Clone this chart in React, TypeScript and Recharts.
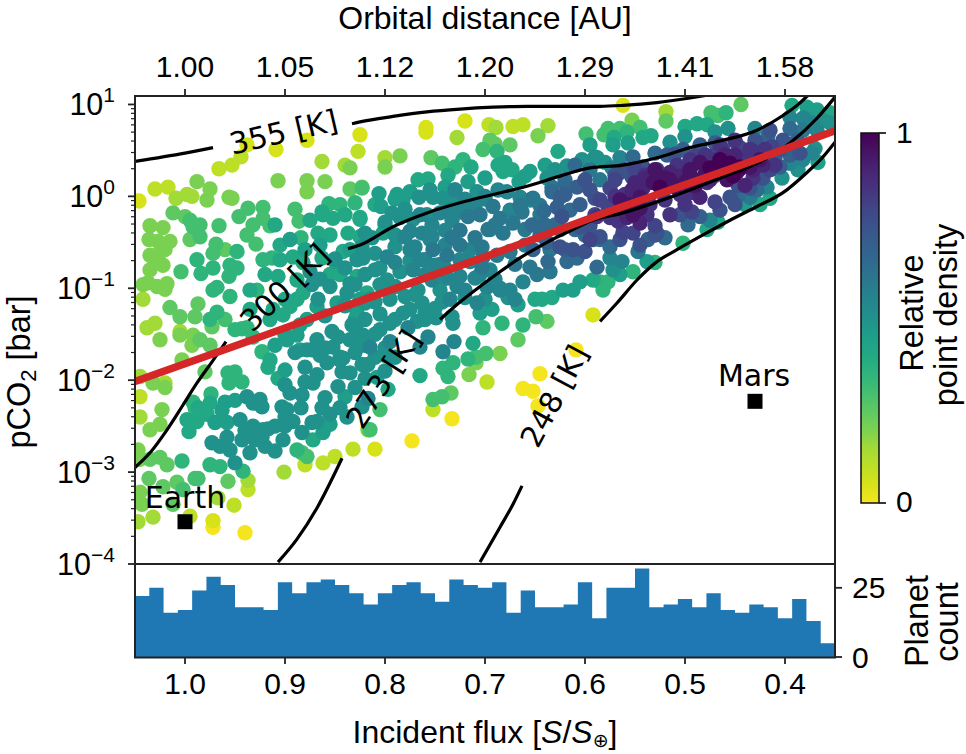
import { Area, ComposedChart, Line, Scatter, XAxis, YAxis } from 'recharts';

// every point is [incident flux S, log10 pCO2], grouped by the density colour it shows
const density00 = [[0.609,-1.67],[0.645,-1.93],[0.662,-2.09],[0.652,-2.12],[0.647,-2.28],[0.773,-2.66],[0.94,-3.66],[0.733,-2.42],[0.972,-3.6]];
const density05 = [[1.046,-0.05],[0.938,0.56],[0.909,0.51],[0.878,0.61],[0.825,0.67],[0.972,-3.53],[0.592,-1.29],[0.759,0.75],[0.562,0.99],[0.81,-2.75],[0.759,0.7],[0.72,0.82]];
const density10 = [[1.03,0.08],[1.017,0.1],[0.827,0.49],[0.944,0.43],[0.953,0.34],[0.966,0.3],[0.951,-3.36],[0.995,-3.48],[0.696,0.78],[0.672,0.76],[0.662,0.78],[0.752,-2.32],[0.937,-3.19],[0.88,-2.92],[0.862,-2.9],[0.85,-2.83],[0.832,-2.75],[0.698,-2.02],[1.045,-2.18]];
const density15 = [[0.8,0.42],[0.863,0.38],[0.84,0.34],[0.728,0.64],[0.637,0.77],[0.519,0.92],[0.689,0.75],[1.009,-0.02],[0.998,0.02],[0.993,0],[1.045,-1.96],[1.045,-2.4],[1.02,-2.03],[1.042,-1.12],[1.047,-3.54],[1.032,-3.49],[1.038,-1.43],[1.03,-1.38],[0.901,-3],[0.967,-3.28],[0.937,-3.09],[1.005,-1.47]];
const density20 = [[0.785,0.44],[0.8,0.32],[0.553,0.83],[0.647,0.66],[0.988,0.16],[0.975,0.08],[0.978,-0.04],[0.956,-0.01],[0.953,-0.02],[0.907,0.17],[0.878,0.17],[0.86,0.16],[0.878,0.05],[0.835,0.31],[1.035,-0.32],[1.022,-0.34],[1.036,-0.47],[1.015,-0.49],[1.027,-0.49],[1.035,-0.64],[1.025,-0.61],[1.022,-0.75],[1.03,-0.73],[1.042,-0.96],[1.037,-0.94],[1.028,-0.98],[1.02,-1.01],[1.018,-0.95],[1.02,-2.08],[1.032,-2.03],[1.005,-1.51],[0.992,-1.51],[0.993,-1.62],[1.035,-2.54],[1.025,-2.48],[1.023,-2.32],[1.043,-3.35],[1.045,-3.22],[1.047,-2.76],[1.045,-2.86],[1.003,-1.78],[0.817,-2.54],[0.709,-1.81],[0.685,-1.71],[0.716,-1.94],[1.02,-0.58],[1.035,-0.8],[1.025,-1.56]];
const density25 = [[0.835,0.08],[0.823,0.1],[0.695,0.61],[0.69,0.57],[0.675,0.56],[0.754,0.42],[0.519,0.82],[0.444,1],[1.012,-0.18],[1,-0.22],[1.015,-1.21],[1.005,-1.31],[0.99,-1.31],[0.98,-1.91],[0.638,-1.36],[0.734,-2.14],[0.667,-1.56],[1.035,-2.86],[1.025,-2.84],[1.018,-2.92],[1.036,-3.07],[1.022,-3.16],[1.012,-3.35],[1.008,-3.11],[0.957,-3.1],[0.987,-1.17],[0.973,-1.42],[0.975,-1.62],[0.995,-0.47],[0.985,-1.56],[0.96,-0.58]];
const density30 = [[0.545,0.75],[0.565,0.74],[0.577,0.74],[0.581,0.67],[0.702,0.51],[0.743,0.36],[0.474,0.91],[0.467,0.88],[0.599,0.68],[0.995,-0.26],[0.985,-0.31],[0.985,-0.44],[0.992,-0.33],[0.966,-0.32],[0.969,-0.52],[0.972,-0.62],[1.004,-0.82],[0.937,-0.13],[0.922,-0.12],[0.946,-0.22],[0.915,-0.32],[0.922,-0.24],[0.932,-0.31],[0.938,-0.42],[0.929,-0.52],[0.89,-0.14],[0.886,-0.27],[0.823,0.09],[0.649,-1.31],[0.699,-1.71],[0.709,-1.75],[0.743,-2.18],[0.752,-2.21],[0.805,-2.32],[0.878,-2.83],[0.883,-2.79],[0.815,-2.54],[1.002,-3.19],[0.99,-3.07],[0.987,-3.07],[0.96,-1.34]];
const density35 = [[0.73,0.32],[0.722,0.4],[0.688,0.49],[0.558,0.7],[0.459,0.91],[0.988,-0.69],[0.972,-0.78],[0.948,-0.6],[0.984,-0.84],[0.884,-0.45],[0.856,-0.08],[0.845,-0.09],[0.83,-0.07],[0.922,-0.69],[0.913,-0.67],[0.948,-0.78],[0.955,-0.75],[0.956,-0.87],[0.968,-0.99],[0.955,-1.09],[0.972,-1.02],[0.928,-1.02],[0.968,-1.26],[0.975,-1.34],[0.938,-1.43],[0.683,-1.38],[0.662,-1.4],[0.702,-1.43],[0.732,-1.81],[0.742,-1.87],[0.737,-1.96],[0.717,-1.77],[0.585,-0.93],[0.577,-0.93],[0.582,-1.02],[0.552,-0.82],[0.957,-1.92],[0.95,-1.91],[0.956,-2.03],[0.943,-2.02],[0.888,-2.76],[0.942,-2.99],[0.975,-2.92],[0.965,-2.94],[1.003,-2.88],[0.95,-1.45],[0.943,-1.44],[0.932,-1.53],[0.923,-1.69],[0.974,-2.15],[0.992,-2.24],[0.99,-2.3],[0.502,-0.51],[0.53,-0.72]];
const density40 = [[0.714,0.32],[0.737,0.23],[0.687,0.34],[0.68,0.37],[0.682,0.27],[0.673,0.29],[0.627,0.49],[0.767,0.18],[0.757,0.19],[0.571,0.64],[0.542,0.64],[0.534,0.66],[0.5,0.76],[0.488,0.79],[0.478,0.78],[0.393,0.99],[0.355,0.91],[0.825,-0.25],[0.825,-0.23],[0.863,-0.17],[0.852,-0.24],[0.862,-0.2],[0.867,-0.4],[0.855,-0.42],[0.837,-0.4],[0.825,-0.44],[0.842,-0.6],[0.892,-0.66],[0.905,-0.69],[0.907,-0.87],[0.882,-0.72],[0.863,-0.67],[0.888,-0.91],[0.882,-1.05],[0.888,-1.12],[0.895,-1.2],[0.912,-1.23],[0.915,-1.34],[0.902,-1.29],[0.855,-0.85],[0.845,-0.85],[0.828,-0.87],[0.818,-1.05],[0.915,-1.78],[0.917,-1.86],[0.907,-1.98],[0.65,-1.12],[0.643,-1.12],[0.633,-1.1],[0.592,-0.91],[0.765,-1.95],[0.712,-1.6],[0.415,-0.02],[0.425,-0.09],[0.467,-0.28],[0.478,-0.36],[0.996,-2.56],[0.998,-2.43],[0.988,-2.45],[0.978,-2.37],[0.987,-2.3],[0.975,-2.25],[0.872,-2.65],[0.797,-2.1],[0.84,-0.2],[0.81,-0.09],[0.8,-0.31],[0.875,-0.26],[0.91,-0.31],[0.905,-0.53],[0.92,-0.85],[0.935,-1.02],[0.9,-1.12],[0.935,-1.23]];
const density45 = [[0.806,0.03],[0.788,0.02],[0.782,-0.04],[0.804,-0.11],[0.666,0.16],[0.717,0.16],[0.64,0.34],[0.655,0.27],[0.595,0.56],[0.572,0.56],[0.557,0.58],[0.378,0.97],[0.368,0.94],[0.367,0.37],[0.44,-0.09],[0.565,-0.85],[0.802,-0.4],[0.868,-1.2],[0.878,-1.34],[0.848,-1.16],[0.83,-1.34],[0.828,-1.27],[0.898,-1.56],[0.888,-1.51],[0.9,-1.89],[0.84,-2.18],[0.862,-2.57],[0.855,-2.48],[0.96,-2.24],[0.95,-2.22],[0.693,-1.23],[0.667,-1.18],[0.705,-1.27],[0.622,-1.02],[0.612,-1.02],[0.605,-0.93],[0.808,-1.97],[0.538,-0.71],[0.963,-2.33],[0.97,-2.46],[0.958,-2.46],[0.79,-0.03],[0.775,0.05],[0.74,0.1],[0.7,0.2],[0.66,0.22],[0.865,-0.53],[0.88,-0.58],[0.895,-0.47],[0.85,-0.71],[0.835,-0.58],[0.825,-1.12],[0.885,-1.4],[0.9,-1.51],[0.91,-1.62],[0.885,-1.67]];
const density50 = [[0.865,-0.9],[0.855,-0.98],[0.875,-0.82],[0.838,-1.05],[0.84,-1.19],[0.867,-1.12],[0.873,-0.96],[0.828,-0.69],[0.82,-0.85],[0.815,-1.12],[0.82,-1.34],[0.833,-1.4],[0.822,-0.67],[0.755,0.07],[0.73,0.07],[0.708,0.05],[0.766,-0.01],[0.752,-0.01],[0.742,-0.02],[0.73,-0.02],[0.785,-0.23],[0.793,-0.18],[0.78,-0.14],[0.638,0.2],[0.63,0.29],[0.618,0.33],[0.603,0.4],[0.59,0.43],[0.515,0.59],[0.5,0.65],[0.47,0.7],[0.457,0.74],[0.588,0.42],[0.58,0.37],[0.403,0.2],[0.387,0.29],[0.38,0.85],[0.362,0.83],[0.355,0.8],[0.37,0.52],[0.823,-0.55],[0.82,-0.4],[0.813,-0.45],[0.81,-0.62],[0.798,-0.91],[0.785,-0.82],[0.767,-1.02],[0.78,-1.09],[0.81,-1.15],[0.82,-1.16],[0.763,-1.16],[0.743,-1.15],[0.782,-1.27],[0.768,-1.36],[0.749,-1.32],[0.733,-1.31],[0.732,-1.38],[0.677,-1.1],[0.572,-0.8],[0.938,-2.18],[0.925,-2.21],[0.923,-2.29],[0.932,-2.25],[0.945,-2.43],[0.932,-2.5],[0.922,-2.54],[0.917,-2.53],[0.923,-2.62],[0.943,-2.65],[0.973,-2.68],[0.958,-2.62],[0.965,-2.72],[0.955,-2.76],[0.95,-2.9],[0.935,-2.79],[0.92,-2.72],[0.91,-2.77],[0.903,-2.29],[0.895,-2.14],[0.883,-2.16],[0.884,-2.3],[0.898,-2.32],[0.86,-2.19],[0.863,-2.3],[0.873,-2.46],[0.892,-2.45],[0.9,-2.5],[0.902,-2.65],[0.883,-2.57],[0.868,-2.45],[0.855,-2.37],[0.823,-2.29],[0.838,-2.4],[0.845,-2.3],[0.878,-1.67],[0.868,-1.56],[0.873,-1.67],[0.852,-1.64],[0.847,-1.53],[0.853,-1.47],[0.828,-1.47],[0.822,-1.51],[0.83,-1.7],[0.842,-1.76],[0.858,-1.81],[0.88,-1.86],[0.88,-2.02],[0.868,-1.94],[0.872,-2.03],[0.843,-1.91],[0.847,-2.07],[0.835,-1.92],[0.823,-1.83],[0.817,-1.83],[0.8,-0.28],[0.772,-0.25],[0.758,-0.2],[0.805,-0.78],[0.79,-0.55],[0.775,-0.7],[0.745,-1.02],[0.79,-0.98],[0.805,-1.28],[0.795,-1.38],[0.75,-1.22],[0.72,-1.1],[0.7,-1.12],[0.76,-1.27],[0.84,-0.78],[0.85,-0.68],[0.835,-0.95],[0.86,-1.3],[0.83,-1.55],[0.81,-1.5],[0.8,-1.65],[0.79,-1.75],[0.81,-1.75],[0.8,-1.9],[0.82,-1.98],[0.83,-2.08],[0.845,-1.75],[0.86,-1.65],[0.89,-1.7],[0.9,-2.05],[0.91,-2.5],[0.93,-2.65],[0.94,-2.55],[0.9,-2.4],[0.81,-0.8],[0.805,-0.96],[0.83,-0.96],[0.795,-1.12],[0.79,-1.34],[0.805,-1.45],[0.835,-1.56],[0.865,-1.73],[0.845,-1.78],[0.8,-1.73],[0.82,-1.62],[0.775,-1.23],[0.76,-1.34],[0.77,-1.07],[0.745,-0.93],[0.79,-0.42]];
const density55 = [[0.73,0.07],[0.687,0.07],[0.678,0.05],[0.665,-0.01],[0.43,0.74],[0.395,0.86],[0.382,0.85],[0.373,0.8],[0.368,0.72],[0.395,0.36],[0.382,0.4],[0.373,0.47],[0.418,0.1],[0.475,-0.26],[0.565,0.42],[0.573,0.31],[0.575,-0.67],[0.563,-0.71],[0.78,-0.44],[0.77,-0.55],[0.775,-0.38],[0.753,-0.31],[0.763,-0.4],[0.753,-0.44],[0.733,-0.26],[0.772,-0.8],[0.737,-0.89],[0.725,-0.87],[0.728,-0.98],[0.71,-0.89],[0.698,-0.99],[0.708,-1.16],[0.675,-1.02],[0.662,-0.93],[0.798,-0.66],[0.79,-0.72],[0.76,-0.85],[0.753,-0.91],[0.777,-1.43],[0.795,-1.58],[0.757,-1.53],[0.765,-1.64],[0.815,-1.64],[0.731,-1.58],[0.742,-1.69],[0.817,-2.2],[0.775,-0.58],[0.76,-0.69],[0.74,-0.37],[0.715,-0.71],[0.695,-0.8],[0.745,-0.18],[0.765,-0.2],[0.725,-0.17],[0.71,-0.1],[0.72,-0.03],[0.7,-0.03],[0.75,-0.75],[0.74,-0.78],[0.69,-0.9],[0.685,-1.0],[0.755,-0.47],[0.74,-0.53],[0.765,-0.69],[0.745,-0.74],[0.725,-0.69],[0.715,-0.58],[0.705,-0.85],[0.72,-1.02],[0.735,-1.12],[0.685,-1.02],[0.67,-1.12],[0.695,-0.36],[0.715,-0.09],[0.735,-0.15],[0.7,0],[0.675,-0.15],[0.655,-0.04]];
const density60 = [[0.725,-0.37],[0.733,-0.45],[0.717,-0.22],[0.738,-0.64],[0.752,-0.58],[0.725,-0.53],[0.71,-0.45],[0.703,-0.55],[0.692,-0.11],[0.685,-0.24],[0.697,-0.36],[0.682,-0.4],[0.663,-0.17],[0.702,-0.66],[0.703,-0.77],[0.688,-0.64],[0.635,-0.82],[0.648,-0.85],[0.655,-0.77],[0.435,-0.01],[0.382,0.72],[0.672,-0.29],[0.633,0.1],[0.652,-0.02],[0.547,-0.6],[0.705,-0.2],[0.69,-0.31],[0.67,-0.74],[0.675,-0.6],[0.66,-0.53],[0.665,-0.1],[0.645,-0.1],[0.645,-0.2],[0.66,-0.36],[0.635,-0.58],[0.595,0.29],[0.585,0.18]];
const density65 = [[0.633,0.05],[0.602,0.13],[0.641,-0.16],[0.653,-0.31],[0.637,-0.71],[0.618,-0.71],[0.608,-0.67],[0.588,-0.77],[0.52,-0.45],[0.497,-0.31],[0.552,0.43],[0.53,0.47],[0.417,0.66],[0.395,0.74],[0.428,0.07],[0.447,0.01],[0.575,-0.55],[0.645,-0.42],[0.63,-0.31],[0.61,-0.36],[0.62,0.14],[0.64,-0.31],[0.615,-0.15],[0.6,-0.42],[0.585,-0.47],[0.625,-0.36],[0.61,0.34],[0.62,0.18]];
const density70 = [[0.625,-0.01],[0.628,-0.12],[0.608,0.1],[0.537,-0.47],[0.592,-0.47],[0.388,0.61],[0.395,0.45],[0.485,-0.22],[0.502,0.51],[0.485,0.56],[0.518,0.45],[0.405,0.32],[0.652,-0.58],[0.638,-0.5],[0.605,-0.09],[0.62,0.02],[0.62,-0.58],[0.41,0.42],[0.47,0.58],[0.45,0.6],[0.42,0.58]];
const density75 = [[0.595,0.07],[0.623,-0.22],[0.625,-0.55],[0.612,-0.58],[0.528,-0.4],[0.447,0.12],[0.435,0.09],[0.542,0.32],[0.553,0.21],[0.455,-0.01],[0.585,-0.44],[0.428,0.54],[0.402,0.61],[0.422,0.2],[0.6,0.18],[0.59,-0.02],[0.605,-0.33],[0.595,-0.32],[0.565,0.26],[0.51,0.46],[0.6,-0.6],[0.57,0.23],[0.56,0.29],[0.575,-0.15],[0.565,-0.47],[0.545,-0.53],[0.53,-0.42],[0.505,-0.2],[0.415,0.72],[0.43,0.61],[0.405,0.51],[0.385,0.47],[0.45,-0.09],[0.465,-0.15]];
const density80 = [[0.595,-0.47],[0.575,0.09],[0.577,-0.11],[0.493,-0.17],[0.445,0.53],[0.462,0.51],[0.413,0.54],[0.415,0.29],[0.47,-0.06],[0.528,0.29],[0.552,-0.4],[0.562,-0.39],[0.585,-0.04],[0.59,-0.2],[0.57,0.18],[0.55,0.3],[0.49,0.44],[0.47,0.45],[0.43,0.42],[0.53,-0.32]];
const density85 = [[0.563,-0.06],[0.5,-0.09],[0.515,-0.2],[0.432,0.49],[0.508,0.34],[0.478,0.15],[0.495,0.04],[0.432,0.2],[0.588,-0.22],[0.538,-0.2],[0.575,-0.23],[0.567,-0.27],[0.57,0],[0.56,0.02],[0.505,0.02],[0.42,0.48],[0.44,0.4],[0.49,0.36],[0.47,0.4],[0.55,0.12],[0.54,0.23],[0.535,-0.09],[0.52,-0.04],[0.505,0.07],[0.485,0.18],[0.47,0.23],[0.45,0.61],[0.465,0.56],[0.48,0.45],[0.495,0.4],[0.435,0.51],[0.42,0.51],[0.41,0.34]];
const density90 = [[0.553,0.07],[0.485,-0.01],[0.545,-0.29],[0.558,-0.23],[0.515,0.26],[0.475,0.18],[0.422,0.34],[0.432,0.29],[0.562,-0.15],[0.542,0.09],[0.55,0.15],[0.54,0.2],[0.505,0.22],[0.49,0.1],[0.46,0.45],[0.45,0.45],[0.44,0.12]];
const density95 = [[0.532,0.15],[0.545,-0.01],[0.495,0.29],[0.485,0.37],[0.435,0.32],[0.458,0.18],[0.448,0.26],[0.528,0.16],[0.552,-0.2],[0.545,-0.13],[0.52,0.2],[0.51,0.1],[0.5,0.15],[0.49,0.17],[0.48,0.24],[0.565,-0.04],[0.555,-0.09],[0.53,0.29],[0.515,0.18],[0.495,0.23],[0.49,0.12],[0.46,0.34],[0.445,0.3],[0.425,0.4]];
const density100 = [[0.525,0.1],[0.475,0.31],[0.465,0.4],[0.455,0.36],[0.445,0.32],[0.47,0.26],[0.46,0.28],[0.452,0.22]];

const bands = [density00, density05, density10, density15, density20, density25, density30, density35, density40, density45, density50, density55, density60, density65, density70, density75, density80, density85, density90, density95, density100];
const viridis = ['#f5e51f', '#d8e219', '#bddf26', '#a2da37', '#7ad151', '#5ec962', '#44bf70', '#2fb47c', '#22a884', '#1f9e89', '#21918c', '#25858e', '#2a788e', '#306a8e', '#355f8d', '#3b528b', '#414487', '#46337f', '#482475', '#471365', '#440154'];

// temperature contours, same units as the points, split where a label interrupts them
const c355a = [[1.05,0.38],[1.0,0.47],[0.972,0.53]];
const c355b = [[0.833,0.79],[0.825,0.81],[0.792,0.87],[0.758,0.92],[0.725,0.95],[0.692,0.97],[0.658,0.98],[0.625,0.98],[0.585,0.98],[0.562,0.99],[0.528,1.02],[0.495,1.07],[0.478,1.1]];
const c300a = [[1.05,-2.95],[1.035,-2.79],[1.018,-2.54],[1.002,-2.27],[0.988,-2.03],[0.973,-1.8],[0.959,-1.58]];
const c300b = [[0.837,-0.57],[0.825,-0.53],[0.792,-0.33],[0.758,-0.18],[0.725,-0.07],[0.692,0.02],[0.658,0.11],[0.625,0.22],[0.595,0.31],[0.562,0.34],[0.528,0.42],[0.495,0.53],[0.462,0.61],[0.428,0.72],[0.402,0.88],[0.388,0.99],[0.377,1.1]];
const c273a = [[0.907,-3.98],[0.888,-3.73],[0.868,-3.39],[0.843,-2.85]];
const c273b = [[0.745,-1.34],[0.725,-1.15],[0.705,-0.98],[0.685,-0.82],[0.665,-0.67],[0.638,-0.5],[0.612,-0.36],[0.595,-0.27],[0.562,-0.18],[0.528,-0.06],[0.495,0.07],[0.462,0.21],[0.428,0.36],[0.395,0.58],[0.368,0.85],[0.35,1.08]];
const c248a = [[0.705,-3.98],[0.685,-3.6],[0.672,-3.35],[0.663,-3.15]];
const c248b = [[0.585,-1.36],[0.568,-1.16],[0.548,-0.91],[0.528,-0.71],[0.508,-0.58],[0.482,-0.42],[0.455,-0.26],[0.428,-0.11],[0.402,0.04],[0.378,0.26],[0.362,0.43],[0.35,0.59]];
const contours = [c355a, c355b, c300a, c300b, c273a, c273b, c248a, c248b];

// best-fit line
const fitFlux = [1.05, 0.93, 0.81, 0.7, 0.58, 0.46, 0.35];
const fitLog = [-2.013, -1.55, -1.08, -0.658, -0.179, 0.277, 0.715];

const earth = [[1.0, -3.54]];
const mars = [[0.43, -2.23]];

// histogram, first bin starts at S = 1.05, bins are 0.7 / 49 wide
const planetCount = [22, 25, 16, 17, 24, 29, 26, 18, 18, 17, 27, 23, 27, 28, 26, 23, 19, 23, 26, 27, 23, 20, 28, 26, 25, 27, 16, 24, 18, 18, 19, 27, 14, 25, 25, 32, 18, 19, 21, 18, 23, 17, 16, 19, 18, 14, 21, 13, 5];
const histRows = [...planetCount, 5].map((count, i) => ({ S: 1.05 - i / 70, count }));

const fluxTicks = [1.0, 0.9, 0.8, 0.7, 0.6, 0.5, 0.4];
const orbitalLabels = ['1.00', '1.05', '1.12', '1.20', '1.29', '1.41', '1.58'];
const decades = [-4, -3, -2, -1, 0, 1];
const minorSteps = [2, 3, 4, 5, 6, 7, 8, 9];
const yDomain = [1e-4, 10 ** 1.092];

const sans = '"Liberation Sans", Arial, sans-serif';
const dejavu = '"DejaVu Sans", sans-serif';

const toRows = (pts: number[][]) => pts.map(([S, lp]) => ({ S, p: 10 ** lp }));
const yTicks = [
    ...decades.map((d) => 10 ** d),
    ...decades.slice(0, 5).flatMap((d) => minorSteps.map((m) => m * 10 ** d)),
];

function LogTick({ x, y, payload }: any) {
    const lp = Math.log10(payload.value);
    const major = Math.abs(lp - Math.round(lp)) < 1e-6;
    if (!major) return <line x1={x} x2={x - 4} y1={y} y2={y} stroke="#222" strokeWidth={1.2} />;
    const exp = Math.round(lp);
    return (
        <g>
            <line x1={x} x2={x - 7} y1={y} y2={y} stroke="#222" strokeWidth={1.8} />
            <text x={x - 20} y={y + 11} textAnchor="end" fontFamily={sans} fontSize={30.5} fill="#000">
                10
                <tspan dy={-13} fontSize={21}>{exp < 0 ? `\u2212${-exp}` : exp}</tspan>
            </text>
        </g>
    );
}

function dot(fill: string) {
    return (props: any) => <circle cx={props.cx} cy={props.cy} r={7.7} fill={fill} />;
}

function square(props: any) {
    return <rect x={props.cx - 7.5} y={props.cy - 7.5} width={15} height={15} fill="#000" />;
}

const annotation = (label: string, x: number, y: number, angle: number) => (
    <text x={x} y={y} transform={`rotate(${angle} ${x} ${y})`} textAnchor="middle" dominantBaseline="middle" fontFamily={dejavu} fontSize={30} fill="#000">
        {label}
    </text>
);

const rotated = (label: React.ReactNode, x: number, y: number) => (
    <text x={x} y={y} transform={`rotate(-90 ${x} ${y})`} textAnchor="middle" fontFamily={sans} fontSize={32.5} fill="#000">
        {label}
    </text>
);

const layer: React.CSSProperties = { position: 'absolute', left: 0, top: 0 };

export default function App() {
    return (
        <div style={{ position: 'fixed', left: 0, top: 0, width: 966, height: 754, background: '#fff', overflow: 'hidden' }}>
            <div style={layer}>
                <ComposedChart width={966} height={754} margin={{ top: 56, right: 131, bottom: 190, left: 75 }}>
                    <XAxis
                        dataKey="S"
                        type="number"
                        orientation="top"
                        height={40}
                        reversed
                        allowDataOverflow
                        domain={[0.35, 1.05]}
                        ticks={fluxTicks}
                        interval={0}
                        axisLine={false}
                        tickSize={7}
                        tickMargin={12}
                        tickLine={{ stroke: '#222', strokeWidth: 1.8 }}
                        tickFormatter={(v: number) => orbitalLabels[fluxTicks.findIndex((t) => Math.abs(t - v) < 1e-6)]}
                        tick={{ fontFamily: sans, fontSize: 30, fill: '#000' }}
                    />
                    <YAxis
                        dataKey="p"
                        type="number"
                        scale="log"
                        width={60}
                        allowDataOverflow
                        domain={yDomain}
                        ticks={yTicks}
                        interval={0}
                        axisLine={false}
                        tickLine={false}
                        tickSize={0}
                        tickMargin={0}
                        tick={<LogTick />}
                    />
                    {bands.map((band, i) => (
                        <Scatter key={i} data={toRows(band)} shape={dot(viridis[i])} isAnimationActive={false} />
                    ))}
                </ComposedChart>
            </div>
            <div style={layer}>
                {/* second layer so the curves and squares sit above the scatter */}
                <ComposedChart width={966} height={754} margin={{ top: 96, right: 131, bottom: 190, left: 135 }}>
                    <XAxis dataKey="S" type="number" hide reversed allowDataOverflow domain={[0.35, 1.05]} />
                    <YAxis dataKey="p" type="number" hide scale="log" allowDataOverflow domain={yDomain} />
                    {contours.map((c, i) => (
                        <Line key={i} data={toRows(c)} dataKey="p" type="monotone" dot={false} stroke="#000" strokeWidth={3.2} isAnimationActive={false} />
                    ))}
                    <Line data={fitFlux.map((S, i) => ({ S, p: 10 ** fitLog[i] }))} dataKey="p" type="linear" dot={false} stroke="#d62728" strokeWidth={7.5} isAnimationActive={false} />
                    <Scatter data={toRows(earth)} shape={square} isAnimationActive={false} />
                    <Scatter data={toRows(mars)} shape={square} isAnimationActive={false} />
                </ComposedChart>
            </div>
            <div style={layer}>
                <ComposedChart width={966} height={754} data={histRows} margin={{ top: 564, right: 71, bottom: 57, left: 135 }}>
                    <XAxis
                        dataKey="S"
                        type="number"
                        height={40}
                        reversed
                        allowDataOverflow
                        domain={[0.35, 1.05]}
                        ticks={fluxTicks}
                        interval={0}
                        axisLine={false}
                        tickSize={7}
                        tickMargin={9}
                        tickLine={{ stroke: '#222', strokeWidth: 1.8 }}
                        tickFormatter={(v: number) => v.toFixed(1)}
                        tick={{ fontFamily: sans, fontSize: 30, fill: '#000' }}
                    />
                    <YAxis
                        orientation="right"
                        type="number"
                        width={60}
                        domain={[0, 33.6]}
                        ticks={[0, 25]}
                        interval={0}
                        axisLine={false}
                        tickSize={7}
                        tickMargin={10}
                        tickLine={{ stroke: '#222', strokeWidth: 1.8 }}
                        tick={{ fontFamily: sans, fontSize: 30, fill: '#000' }}
                    />
                    <Area dataKey="count" type="stepAfter" fill="#1f77b4" fillOpacity={1} stroke="none" dot={false} isAnimationActive={false} />
                </ComposedChart>
            </div>
            <svg width={966} height={754} style={{ position: 'absolute', left: 0, top: 0, pointerEvents: 'none' }}>
                <defs>
                    <linearGradient id="cbar" x1="0" y1="1" x2="0" y2="0">
                        {viridis.map((c, i) => (
                            <stop key={c} offset={i / (viridis.length - 1)} stopColor={c} />
                        ))}
                    </linearGradient>
                </defs>
                <rect x={135} y={96} width={700} height={561.5} fill="none" stroke="#222" strokeWidth={2} />
                <line x1={135} x2={835} y1={564} y2={564} stroke="#222" strokeWidth={2} />
                {annotation('355 [K]', 284, 134, -13)}
                {annotation('300 [K]', 286, 289, -44)}
                {annotation('273 [K]', 385, 380, -57)}
                {annotation('248 [K]', 556, 397, -62)}
                {annotation('Earth', 185, 499, 0)}
                {annotation('Mars', 754, 377, 0)}
                <text x={485} y={29} textAnchor="middle" fontFamily={sans} fontSize={32}>Orbital distance [AU]</text>
                <text x={485} y={743} textAnchor="middle" fontFamily={sans} fontSize={32}>
                    Incident flux [<tspan fontStyle="italic">S</tspan>/<tspan fontStyle="italic">S</tspan>
                    <tspan dy={4} fontSize={19} fontFamily={dejavu}>⊕</tspan>
                    <tspan dy={-4}>]</tspan>
                </text>
                {rotated(<>pCO<tspan dy={6} fontSize={22}>2</tspan><tspan dy={-6}> [bar]</tspan></>, 30, 372)}
                {rotated('Planet', 928, 621)}
                {rotated('count', 958, 622)}
                {rotated('Relative', 923, 313)}
                {rotated('point density', 957, 315)}
                <rect x={861} y={133} width={18} height={370} fill="url(#cbar)" stroke="#111" strokeWidth={1.5} />
                <line x1={879} x2={886} y1={133} y2={133} stroke="#222" strokeWidth={1.8} />
                <line x1={879} x2={886} y1={503} y2={503} stroke="#222" strokeWidth={1.8} />
                <text x={896} y={143} fontFamily={sans} fontSize={30}>1</text>
                <text x={896} y={512} fontFamily={sans} fontSize={30}>0</text>
            </svg>
        </div>
    );
}
